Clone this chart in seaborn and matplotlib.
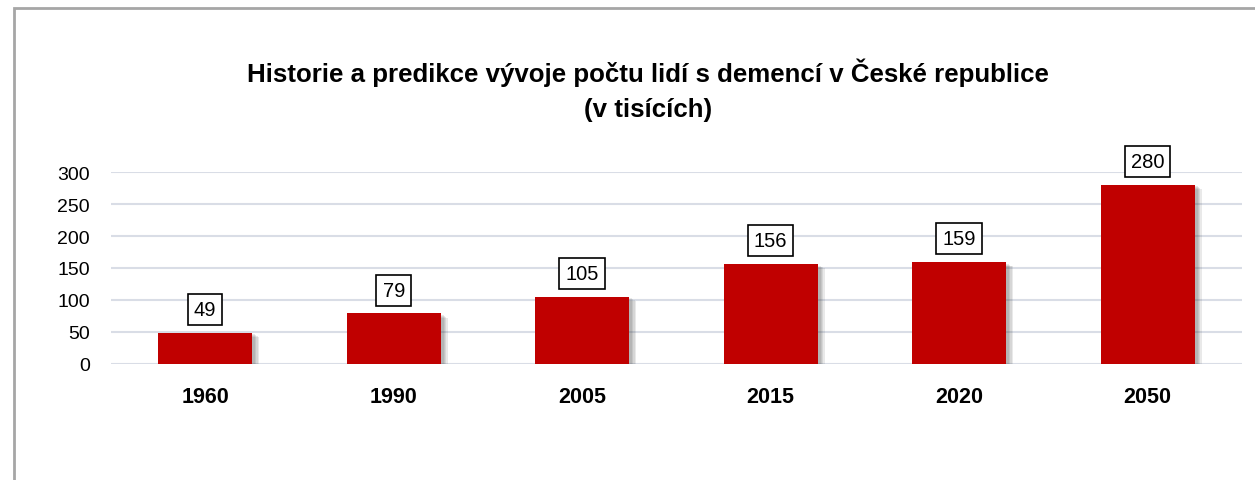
import matplotlib
matplotlib.use("Agg")
import matplotlib.pyplot as plt
import matplotlib.patheffects as pe
from matplotlib.patches import Rectangle
import seaborn as sns
import pandas as pd

years = ["1960", "1990", "2005", "2015", "2020", "2050"]
values = [49, 79, 105, 156, 159, 280]
yticks = [0, 50, 100, 150, 200, 250, 300]
title_line1 = "Historie a predikce vývoje počtu lidí s demencí v České republice"
title_line2 = "(v tisících)"

sns.set_theme(style="white")
plt.rcParams["font.family"] = ["Liberation Sans", "DejaVu Sans"]
plt.rcParams["text.color"] = "black"
plt.rcParams["xtick.color"] = "black"
plt.rcParams["ytick.color"] = "black"

df = pd.DataFrame({"year": years, "value": values})

fig = plt.figure(figsize=(12.55, 4.81), dpi=100)
ax = fig.add_axes([0.0884, 0.2412, 0.9012, 0.3991])

sns.barplot(data=df, x="year", y="value", color="#C00000", width=0.5,
            saturation=1, ax=ax, zorder=3)

shadows = [pe.SimplePatchShadow(offset=(d, -d * 0.6), shadow_rgbFace="#303030", alpha=0.1)
           for d in (5, 4, 3, 2)]
for p in ax.patches:
    p.set_edgecolor("none")
    p.set_path_effects(shadows + [pe.Normal()])

for i, v in enumerate(values):
    ax.annotate(str(v), xy=(i, v), xytext=(0, 10), textcoords="offset points",
                ha="center", va="bottom", fontsize=14.5, color="black", annotation_clip=False,
                bbox=dict(boxstyle="square,pad=0.3", fc="white", ec="black", lw=1.2), zorder=5)

ax.set_ylim(0, 300)
ax.set_xlim(-0.5, len(years) - 0.5)
ax.set_yticks(yticks)
ax.set_yticklabels([str(t) for t in yticks], fontsize=14)
ax.set_xticklabels(years, fontsize=15.5, fontweight="bold")
ax.tick_params(axis="x", pad=16, length=0)
ax.tick_params(axis="y", pad=15, length=0)
ax.yaxis.grid(True, color="#d9dde6", lw=1.5, zorder=0)
ax.set_axisbelow(True)
for s in ax.spines.values():
    s.set_visible(False)
ax.set_xlabel("")
ax.set_ylabel("")

fig.text(648 / 1255, 1 - 82 / 481, title_line1, ha="center", va="baseline",
         fontsize=18.6, fontweight="bold")
fig.text(648 / 1255, 1 - 117 / 481, title_line2, ha="center", va="baseline",
         fontsize=18.6, fontweight="bold")

fig.patches.append(Rectangle((14 / 1255, -0.1), 1.2, (481 - 9) / 481 + 0.1,
                             transform=fig.transFigure, fill=False, ec="#a6a6a6", lw=2))

fig.savefig("out.png", dpi=100)
